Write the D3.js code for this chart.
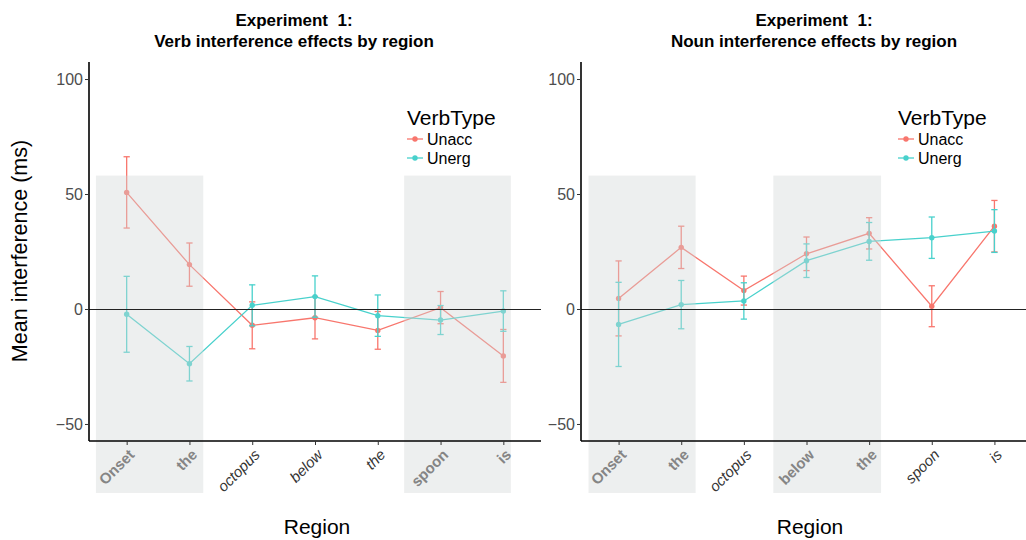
<!DOCTYPE html>
<html>
<head>
<meta charset="utf-8">
<script src="https://cdn.jsdelivr.net/npm/d3@7"></script>
<style>
  body { margin: 0; background: #fff; }
  svg { display: block; font-family: "Liberation Sans", Arial, sans-serif; }
</style>
</head>
<body>
<div id="chart"></div>
<script>
'use strict'

// regions of the sentence (same for both panels)
var regions = ["Onset", "the", "octopus", "below", "the", "spoon", "is"];
var verbTypes = ["Unacc", "Unerg"];
var yTicks = [-50, 0, 50, 100];

// verb panel: means and error half-widths (ms)
var verbUnaccMean = [50.7, 19.3, -7.1, -3.8, -9.3, 0.6, -20.4];
var verbUnaccErr  = [15.5, 9.4, 10.2, 9.2, 8.2, 7.0, 11.5];
var verbUnergMean = [-2.3, -23.8, 1.6, 5.4, -2.9, -4.8, -0.9];
var verbUnergErr  = [16.5, 7.5, 8.9, 9.0, 9.0, 6.3, 8.8];

// noun panel
var nounUnaccMean = [4.6, 26.8, 8.0, 24.0, 32.9, 1.2, 36.0];
var nounUnaccErr  = [16.3, 9.2, 6.3, 7.3, 6.8, 8.9, 11.2];
var nounUnergMean = [-6.7, 1.9, 3.5, 21.0, 29.4, 31.0, 33.9];
var nounUnergErr  = [18.3, 10.5, 7.9, 7.3, 8.2, 9.0, 9.3];

// shaded critical regions, in region-index units, and their vertical extent (ms)
var verbShade = [[-0.49, 1.22], [4.42, 6.12]];
var nounShade = [[-0.48, 1.23], [2.47, 4.19]];
var shadeTop = 58, shadeBottom = -80;

var colors = { Unacc: "#F8766D", Unerg: "#48D1CC" };

var chart = (function(){
    var self = {},
    _svg,

    //build the series list for one panel
    makeSeries = function(means, errs){
        return verbTypes.map(function(t, k){
            return {
                type: t,
                values: means[k].map(function(m, i){
                    return { i: i, mean: m, err: errs[k][i] };
                })
            };
        });
    },

    inShade = function(i, shade){
        return shade.some(function(s){ return i >= s[0] && i <= s[1]; });
    };

    self.init = function(placeHolder){
        _svg = d3.select(placeHolder).append("svg")
            .attr("width", 1026)
            .attr("height", 540);
    };

    //draws one panel
    self.drawPanel = function(p){
        var g = _svg.append("g");

        var x = d3.scaleLinear().domain([-0.6, regions.length - 0.4]).range([p.left, p.right]);
        var y = d3.scaleLinear().domain([-57.4, 107.4]).range([441, 62]);
        var step = x(1) - x(0);

        var series = makeSeries(p.means, p.errs);

        var line = d3.line()
            .x(function(d){ return x(d.i); })
            .y(function(d){ return y(d.mean); });

        var sg = g.selectAll(".series")
            .data(series)
            .enter()
            .append("g")
            .attr("class", "series")
            .attr("stroke", function(d){ return colors[d.type]; })
            .attr("fill", function(d){ return colors[d.type]; });

        sg.append("path")
            .attr("d", function(d){ return line(d.values); })
            .attr("fill", "none")
            .attr("stroke-width", 1.3);

        var eb = sg.selectAll(".eb")
            .data(function(d){ return d.values; })
            .enter()
            .append("g")
            .attr("class", "eb")
            .attr("stroke-width", 1.3);

        eb.append("line")
            .attr("x1", function(d){ return x(d.i); })
            .attr("x2", function(d){ return x(d.i); })
            .attr("y1", function(d){ return y(d.mean + d.err); })
            .attr("y2", function(d){ return y(d.mean - d.err); });
        [1, -1].forEach(function(sgn){
            eb.append("line")
                .attr("x1", function(d){ return x(d.i) - step * 0.05; })
                .attr("x2", function(d){ return x(d.i) + step * 0.05; })
                .attr("y1", function(d){ return y(d.mean + sgn * d.err); })
                .attr("y2", function(d){ return y(d.mean + sgn * d.err); });
        });
        eb.append("circle")
            .attr("cx", function(d){ return x(d.i); })
            .attr("cy", function(d){ return y(d.mean); })
            .attr("r", 2.7)
            .attr("stroke", "none");

        // shaded critical regions drawn over the data
        g.selectAll(".shade")
            .data(p.shade)
            .enter()
            .append("rect")
            .attr("class", "shade")
            .attr("x", function(d){ return x(d[0]); })
            .attr("width", function(d){ return x(d[1]) - x(d[0]); })
            .attr("y", y(shadeTop))
            .attr("height", y(shadeBottom) - y(shadeTop))
            .attr("fill", "#d2d7d7")
            .attr("fill-opacity", 0.4);

        // zero reference line
        g.append("line")
            .attr("x1", p.left).attr("x2", p.right)
            .attr("y1", Math.round(y(0)) + 0.5).attr("y2", Math.round(y(0)) + 0.5)
            .attr("stroke", "#222").attr("stroke-width", 1.2);

        // y axis
        var yAxis = g.append("g")
            .attr("transform", "translate(" + p.left + ",0)")
            .call(d3.axisLeft(y).tickValues(yTicks).tickSize(4).tickPadding(2));
        yAxis.select(".domain").attr("d", "M0," + y.range()[0] + "V" + y.range()[1])
            .attr("stroke", "#000").attr("stroke-width", 1.6);
        yAxis.selectAll(".tick line").attr("stroke", "#333");
        yAxis.selectAll(".tick text")
            .attr("font-size", 16).attr("fill", "#4d4d4d")
            .attr("font-family", "Liberation Sans, Arial, sans-serif");

        // x axis
        var xAxis = g.append("g")
            .attr("transform", "translate(0," + y.range()[0] + ")")
            .call(d3.axisBottom(x).tickValues(d3.range(regions.length)).tickSize(4).tickFormat(""));
        xAxis.select(".domain").attr("d", "M" + p.left + ",0H" + p.right)
            .attr("stroke", "#000").attr("stroke-width", 1.6);
        xAxis.selectAll(".tick line").attr("stroke", "#333");

        g.selectAll(".xlab")
            .data(regions)
            .enter()
            .append("text")
            .attr("class", "xlab")
            .attr("transform", function(d, i){
                return "translate(" + (x(i) + 5) + "," + 452 + ") rotate(-45)";
            })
            .attr("text-anchor", "end")
            .attr("dy", "0.35em")
            .attr("font-size", 15)
            .attr("font-weight", function(d, i){ return inShade(i, p.shade) ? "bold" : "normal"; })
            .attr("font-style", function(d, i){ return inShade(i, p.shade) ? "normal" : "italic"; })
            .attr("fill", function(d, i){ return inShade(i, p.shade) ? "#858585" : "#333"; })
            .text(function(d){ return d; });

        // titles
        var title = g.append("text")
            .attr("x", p.titleX)
            .attr("text-anchor", "middle")
            .attr("font-size", 17)
            .attr("font-weight", "bold")
            .attr("fill", "#000");
        title.append("tspan").attr("x", p.titleX).attr("y", 26).attr("xml:space", "preserve").text("Experiment  1:");
        title.append("tspan").attr("x", p.titleX).attr("y", 47).text(p.title);

        g.append("text")
            .attr("x", p.xLabelX).attr("y", 534)
            .attr("text-anchor", "middle")
            .attr("font-size", 21)
            .attr("fill", "#000")
            .text("Region");

        // legend
        var lg = g.append("g").attr("transform", "translate(" + p.legendX + ",0)");
        lg.append("text")
            .attr("x", 0).attr("y", 125)
            .attr("font-size", 21)
            .attr("fill", "#000")
            .text("VerbType");
        var item = lg.selectAll(".item")
            .data(verbTypes)
            .enter()
            .append("g")
            .attr("class", "item")
            .attr("transform", function(d, k){ return "translate(0," + (139 + k * 19) + ")"; });
        item.append("line")
            .attr("x1", 0).attr("x2", 16)
            .attr("stroke", function(d){ return colors[d]; })
            .attr("stroke-width", 1.3);
        item.append("circle")
            .attr("cx", 8).attr("r", 2.7)
            .attr("fill", function(d){ return colors[d]; });
        item.append("text")
            .attr("x", 20).attr("dy", "0.36em")
            .attr("font-size", 16)
            .attr("fill", "#000")
            .text(function(d){ return d; });
    };

    self.drawYLabel = function(){
        _svg.append("text")
            .attr("transform", "translate(27,251) rotate(-90)")
            .attr("text-anchor", "middle")
            .attr("font-size", 21.5)
            .attr("fill", "#000")
            .text("Mean interference (ms)");
    };

    return self;
}());

chart.init("#chart");
chart.drawPanel({
    left: 89, right: 541,
    means: [verbUnaccMean, verbUnergMean],
    errs: [verbUnaccErr, verbUnergErr],
    shade: verbShade,
    title: "Verb interference effects by region",
    titleX: 294, xLabelX: 317, legendX: 407
});
chart.drawPanel({
    left: 581, right: 1032,
    means: [nounUnaccMean, nounUnergMean],
    errs: [nounUnaccErr, nounUnergErr],
    shade: nounShade,
    title: "Noun interference effects by region",
    titleX: 814, xLabelX: 810, legendX: 898
});
chart.drawYLabel();
</script>
</body>
</html>
